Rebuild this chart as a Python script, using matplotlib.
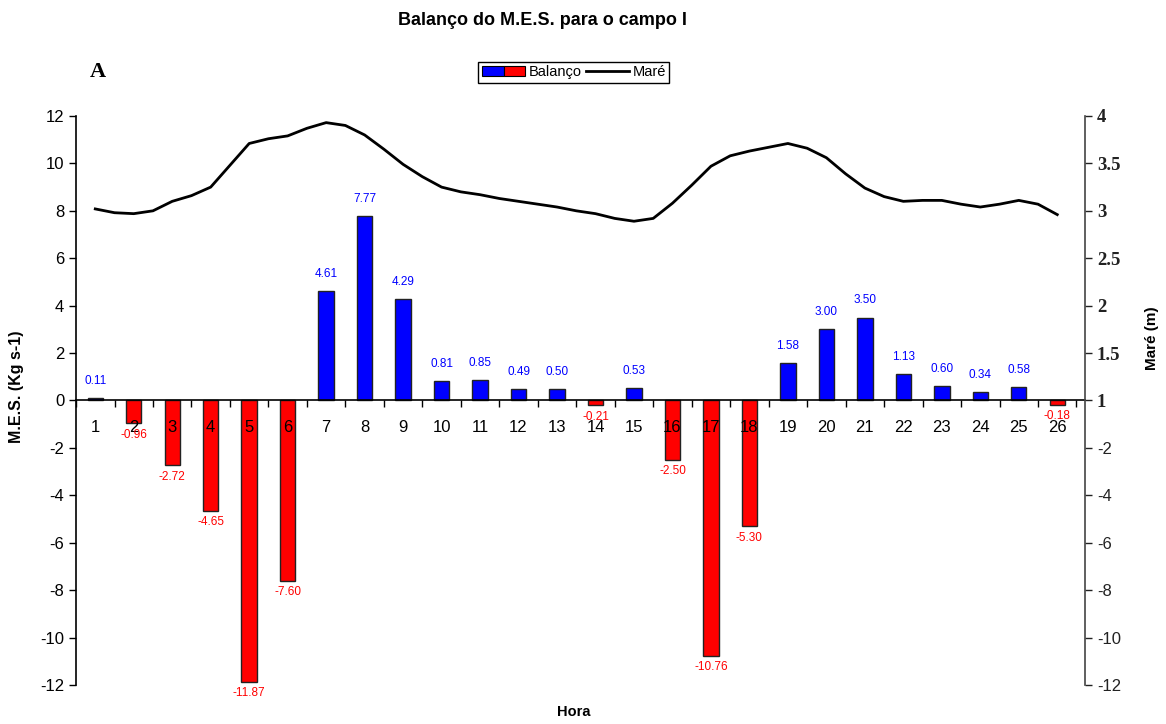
import numpy as np
import matplotlib.pyplot as plt
from matplotlib.patches import Patch
from matplotlib.lines import Line2D
from matplotlib.legend_handler import HandlerTuple

# ----------------------------
# Data
# ----------------------------
horas = list(range(1, 27))
balanco = [0.11, -0.96, -2.72, -4.65, -11.87, -7.60, 4.61, 7.77, 4.29, 0.81,
           0.85, 0.49, 0.50, -0.21, 0.53, -2.50, -10.76, -5.30, 1.58, 3.00,
           3.50, 1.13, 0.60, 0.34, 0.58, -0.18]

# tide (m) read every half hour, from hour 1 to 26
mare_hora = [1.0, 1.5, 2.0, 2.5, 3.0, 3.5, 4.0, 4.5, 5.0, 5.5, 6.0, 6.5, 7.0, 7.5,
             8.0, 8.5, 9.0, 9.5, 10.0, 10.5, 11.0, 11.5, 12.0, 12.5, 13.0, 13.5,
             14.0, 14.5, 15.0, 15.5, 16.0, 16.5, 17.0, 17.5, 18.0, 18.5, 19.0,
             19.5, 20.0, 20.5, 21.0, 21.5, 22.0, 22.5, 23.0, 23.5, 24.0, 24.5,
             25.0, 25.5, 26.0]
mare = [3.02, 2.98, 2.97, 3.00, 3.10, 3.16, 3.25, 3.48, 3.71, 3.76, 3.79, 3.87,
        3.93, 3.90, 3.80, 3.65, 3.49, 3.36, 3.25, 3.20, 3.17, 3.13, 3.10, 3.07,
        3.04, 3.00, 2.97, 2.92, 2.89, 2.92, 3.08, 3.27, 3.47, 3.58, 3.63, 3.67,
        3.71, 3.66, 3.56, 3.39, 3.24, 3.15, 3.10, 3.11, 3.11, 3.07, 3.04, 3.07,
        3.11, 3.07, 2.96]

left_ticks = list(range(-12, 13, 2))
right_labels = ['-12', '-10', '-8', '-6', '-4', '-2', '1', '1.5', '2', '2.5', '3', '3.5', '4']

BLUE = '#0000ff'
RED = '#ff0000'
SANS = 'Liberation Sans'
SERIF = 'Liberation Serif'


def mare_to_left(m):
    # secondary scale: 1 m at 0, 4 m at 12
    return (np.asarray(m) - 1.0) * 4.0


fig = plt.figure(figsize=(11.66, 7.24), dpi=100)
ax = fig.add_axes([0.0652, 0.0539, 0.8653, 0.7859])
ax.set_axisbelow(False)  # tick labels drawn over the bars, like the original

colors = [BLUE if v >= 0 else RED for v in balanco]
ax.bar(horas, balanco, width=0.4, color=colors, edgecolor='#222222', linewidth=1.0, zorder=2)
ax.plot(mare_hora, mare_to_left(mare), color='black', linewidth=2.0, zorder=3)

# value labels
for h, v in zip(horas, balanco):
    if v >= 0:
        ax.annotate(f"{v:.2f}", (h, v), xytext=(0, 8), textcoords='offset points',
                    ha='center', va='bottom', fontsize=8.5, color=BLUE, family=SANS)
    else:
        ax.annotate(f"{v:.2f}", (h, v), xytext=(0, -4), textcoords='offset points',
                    ha='center', va='top', fontsize=8.5, color=RED, family=SANS)

ax.set_xlim(0.5, 26.72)
ax.set_ylim(-12, 12)

# axes styling
ax.spines['top'].set_visible(False)
ax.spines['right'].set_visible(False)
ax.spines['bottom'].set_position(('data', 0))
ax.spines['bottom'].set_bounds(0.5, 26.72)
ax.spines['left'].set_linewidth(1.2)
ax.spines['bottom'].set_linewidth(1.2)

ax.set_xticks(horas)
ax.set_xticklabels([str(h) for h in horas], family=SANS, fontsize=12)
ax.tick_params(axis='x', which='major', length=0, pad=14)
ax.set_xticks(np.arange(0.5, 27, 1.0), minor=True)
ax.tick_params(axis='x', which='minor', direction='out', length=5, width=1)

ax.set_yticks(left_ticks)
ax.set_yticklabels([str(t) for t in left_ticks], family=SANS, fontsize=12)
ax.tick_params(axis='y', direction='out', length=5, width=1)

ax.set_ylabel("M.E.S. (Kg s-1)", family=SANS, fontsize=11.5, fontweight='bold')
ax.yaxis.set_label_coords(-0.052, 0.525)
ax.set_xlabel("Hora", family=SANS, fontsize=10.5, fontweight='bold')
ax.xaxis.set_label_coords(0.493, -0.035)

# right axis (Maré)
ax2 = ax.twinx()
ax2.set_ylim(-12, 12)
ax2.set_yticks(left_ticks)
ax2.set_yticklabels(right_labels)
for t, lab in zip(ax2.get_yticklabels(), right_labels):
    if lab.startswith('-'):
        t.set_family(SANS)
        t.set_fontsize(12)
    else:
        t.set_family(SERIF)
        t.set_fontweight('bold')
        t.set_fontsize(13.5)
for s in ['top', 'left', 'bottom']:
    ax2.spines[s].set_visible(False)
ax2.spines['right'].set_color('#444444')
ax2.spines['right'].set_linewidth(1.2)
ax2.tick_params(axis='y', direction='out', length=5, width=1, colors='#222222')
ax2.set_ylabel("Maré (m)", family=SANS, fontsize=11, fontweight='bold')
ax2.yaxis.set_label_coords(1.06, 0.61)

# title, panel letter, legend
fig.text(0.465, 0.972, "Balanço do M.E.S. para o campo I", ha='center', va='center',
         family=SANS, fontsize=13, fontweight='bold')
fig.text(0.077, 0.9, "A", ha='left', va='center', family=SERIF, fontsize=16, fontweight='bold')

h_bar = (Patch(facecolor=BLUE, edgecolor='black', linewidth=0.8),
         Patch(facecolor=RED, edgecolor='black', linewidth=0.8))
h_line = Line2D([0], [0], color='black', linewidth=2)
leg = fig.legend([h_bar, h_line], ["Balanço", "Maré"],
                 handler_map={tuple: HandlerTuple(ndivide=None, pad=0)},
                 loc='center', bbox_to_anchor=(0.492, 0.9), ncol=2,
                 fancybox=False, edgecolor='black', framealpha=1,
                 prop={'family': SANS, 'size': 10.5}, handlelength=3.0,
                 handletextpad=0.2, columnspacing=0.3, borderpad=0.25,
                 borderaxespad=0)
leg.get_frame().set_linewidth(1.0)

plt.savefig("out.png", dpi=100)
plt.close()
